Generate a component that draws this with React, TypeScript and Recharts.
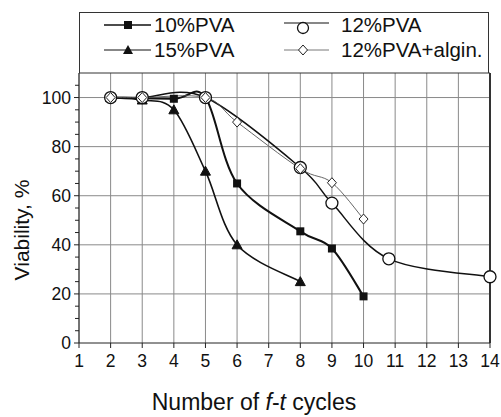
import { LineChart, Line, XAxis, YAxis, CartesianGrid, ReferenceLine } from 'recharts';

const xTicks = [1, 2, 3, 4, 5, 6, 7, 8, 9, 10, 11, 12, 13, 14];
const yTicks = [0, 5, 10, 15, 20, 25, 30, 35, 40, 45, 50, 55, 60, 65, 70, 75, 80, 85, 90, 95, 100, 105];
const yGrid = [20, 40, 60, 80, 100];

const pva10 = [
  { x: 2, y: 100 },
  { x: 4, y: 99.5 },
  { x: 5, y: 100 },
  { x: 6, y: 65 },
  { x: 8, y: 45.5 },
  { x: 9, y: 38.5 },
  { x: 10, y: 19 },
];
const pva15 = [
  { x: 2, y: 100 },
  { x: 3, y: 99 },
  { x: 4, y: 95 },
  { x: 5, y: 70 },
  { x: 6, y: 40 },
  { x: 8, y: 25 },
];
const pva12 = [
  { x: 2, y: 100 },
  { x: 3, y: 100 },
  { x: 5, y: 100 },
  { x: 8, y: 71.5 },
  { x: 9, y: 57 },
  { x: 10.8, y: 34.3 },
  { x: 14, y: 27 },
];
const pva12alg = [
  { x: 2, y: 100 },
  { x: 3, y: 100 },
  { x: 5, y: 100 },
  { x: 6, y: 90 },
  { x: 8, y: 71 },
  { x: 9, y: 65.3 },
  { x: 10, y: 50.5 },
];

const FONT = '"Liberation Sans", Arial, sans-serif';

// Excel-style smoothed line (Catmull-Rom through the points)
const smooth = (ctx: any) => {
  let pts: number[][] = [];
  return {
    areaStart() {},
    areaEnd() {},
    lineStart() {
      pts = [];
    },
    point(x: number, y: number) {
      pts.push([+x, +y]);
    },
    lineEnd() {
      if (!pts.length) return;
      ctx.moveTo(pts[0][0], pts[0][1]);
      for (let i = 0; i < pts.length - 1; i++) {
        const p0 = pts[Math.max(i - 1, 0)];
        const p1 = pts[i];
        const p2 = pts[i + 1];
        const p3 = pts[Math.min(i + 2, pts.length - 1)];
        ctx.bezierCurveTo(
          p1[0] + (p2[0] - p0[0]) / 6, p1[1] + (p2[1] - p0[1]) / 6,
          p2[0] - (p3[0] - p1[0]) / 6, p2[1] - (p3[1] - p1[1]) / 6,
          p2[0], p2[1],
        );
      }
    },
  };
};

const Square = (p: any) => (
  <rect key={`s${p.index}`} x={p.cx - 4} y={p.cy - 4} width={8} height={8} fill="#111" />
);
const Triangle = (p: any) => (
  <polygon key={`t${p.index}`} points={`${p.cx},${p.cy - 5} ${p.cx + 5},${p.cy + 4} ${p.cx - 5},${p.cy + 4}`} fill="#111" stroke="#111" />
);
const Circle = (p: any) => (
  <circle key={`c${p.index}`} cx={p.cx} cy={p.cy} r={6} fill="#fff" stroke="#111" strokeWidth={1.3} />
);
const Diamond = (p: any) => (
  <polygon key={`d${p.index}`} points={`${p.cx},${p.cy - 5} ${p.cx + 4.5},${p.cy} ${p.cx},${p.cy + 5} ${p.cx - 4.5},${p.cy}`} fill="#fff" stroke="#222" strokeWidth={1} />
);

const YTick = (p: any) => {
  const v = p.payload.value;
  const major = v % 20 === 0;
  return (
    <g>
      <line x1={p.x - (major ? 5 : 4)} x2={p.x} y1={p.y} y2={p.y} stroke="#222" />
      {major && (
        <text x={p.x - 8} y={p.y} dy="0.35em" textAnchor="end" fontSize={17.5} fill="#111" fontFamily={FONT}>
          {v}
        </text>
      )}
    </g>
  );
};

function LegendItem({ label, w, children }: { label: string; w: number; children: any }) {
  return (
    <div style={{ display: 'flex', alignItems: 'center', height: 25 }}>
      <svg width={w} height={20}>{children}</svg>
      <span>{label}</span>
    </div>
  );
}

export default function App() {
  return (
    <div style={{ position: 'fixed', left: 0, top: 0, width: 501, height: 417, background: '#fff', fontFamily: FONT }}>
      {/* legend box */}
      <div
        style={{
          position: 'absolute', left: 79, top: 12, width: 408, height: 60,
          border: '1px solid #333', borderBottom: 'none', fontSize: 20.5, color: '#111',
        }}
      >
        <div style={{ position: 'absolute', left: 22, top: -1 }}>
          <LegendItem label="10%PVA" w={52}>
            <line x1={2} x2={49} y1={10} y2={10} stroke="#111" strokeWidth={1.5} />
            <rect x={22} y={6} width={8} height={8} fill="#111" />
          </LegendItem>
          <LegendItem label="15%PVA" w={52}>
            <line x1={2} x2={49} y1={10} y2={10} stroke="#111" strokeWidth={1.2} />
            <polygon points="26,5 31,14 21,14" fill="#111" />
          </LegendItem>
        </div>
        <div style={{ position: 'absolute', left: 203, top: -1 }}>
          <LegendItem label="12%PVA" w={58}>
            <line x1={1} x2={46} y1={8} y2={8} stroke="#111" strokeWidth={1.2} />
            <circle cx={20} cy={13} r={5.5} fill="#fff" stroke="#111" strokeWidth={1.3} />
          </LegendItem>
          <LegendItem label="12%PVA+algin." w={58}>
            <line x1={1} x2={46} y1={10} y2={10} stroke="#555" strokeWidth={0.8} />
            <polygon points="20,5 24.5,10 20,15 15.5,10" fill="#fff" stroke="#222" />
          </LegendItem>
        </div>
      </div>

      <LineChart width={501} height={417} margin={{ top: 73, right: 11, bottom: 0, left: 0 }} style={{ position: 'absolute', left: 0, top: 0 }}>
        <CartesianGrid horizontal={false} stroke="#8a8a8a" strokeWidth={1} />
        {yGrid.map((v) => (
          <ReferenceLine key={v} y={v} stroke="#8a8a8a" />
        ))}
        <ReferenceLine y={110} stroke="#333" />
        <ReferenceLine x={14} stroke="#333" strokeWidth={2} />
        <XAxis
          type="number"
          dataKey="x"
          domain={[1, 14]}
          ticks={xTicks}
          interval={0}
          allowDuplicatedCategory={false}
          height={74}
          tickSize={5}
          tickMargin={7}
          stroke="#222"
          tick={{ fontSize: 17.5, fill: '#111', fontFamily: FONT }}
          label={{
            content: () => (
              <text x={254} y={410} textAnchor="middle" fontSize={23} fill="#111" fontFamily={FONT}>
                Number of <tspan fontStyle="italic">f</tspan>-<tspan fontStyle="italic">t</tspan> cycles
              </text>
            ),
          }}
        />
        <YAxis
          type="number"
          domain={[0, 110]}
          ticks={yTicks}
          interval={0}
          width={79}
          tickSize={0}
          tickMargin={0}
          tickLine={false}
          stroke="#222"
          tick={YTick}
          label={{
            content: () => (
              <text x={22} y={230} dy="0.35em" textAnchor="middle" fontSize={21} fill="#111" fontFamily={FONT} transform="rotate(-90 22 230)">
                Viability, %
              </text>
            ),
          }}
        />
        <Line data={pva10} dataKey="y" type={smooth as any} stroke="#111" strokeWidth={2} dot={Square} isAnimationActive={false} />
        <Line data={pva15} dataKey="y" type={smooth as any} stroke="#111" strokeWidth={1.6} dot={Triangle} isAnimationActive={false} />
        <Line data={pva12} dataKey="y" type={smooth as any} stroke="#111" strokeWidth={1.5} dot={Circle} isAnimationActive={false} />
        <Line data={pva12alg} dataKey="y" type={smooth as any} stroke="#555" strokeWidth={0.9} dot={Diamond} isAnimationActive={false} />
      </LineChart>
    </div>
  );
}
